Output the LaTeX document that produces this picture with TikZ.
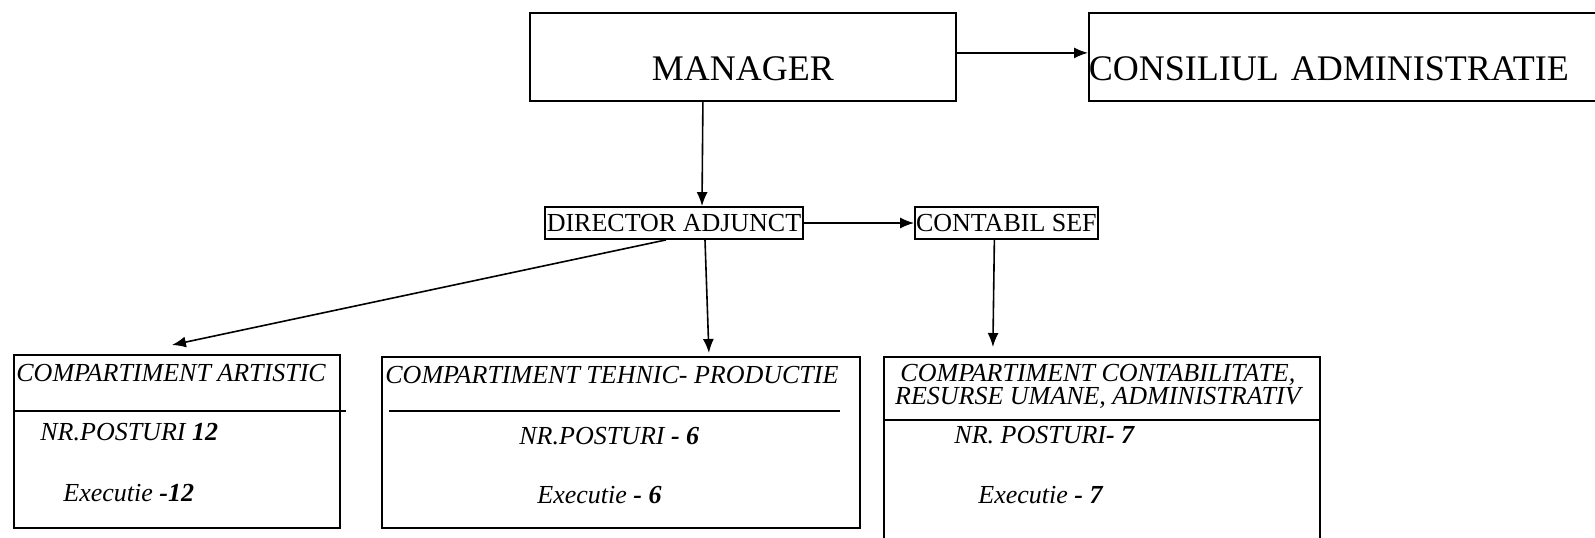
\documentclass[tikz,border=0pt]{standalone}
\usepackage{fontspec}
\setmainfont{Liberation Serif}
\usetikzlibrary{positioning, arrows.meta}

\tikzset{
  box/.style={draw, line width=0.9pt, inner sep=0pt},
  arr/.style={-{Latex[length=7pt, width=5.5pt]}, line width=0.8pt},
  big/.style={font=\fontsize{18}{20}\selectfont},
  small/.style={font=\fontsize{13}{15}\selectfont},
  lbl/.style={font=\fontsize{13}{11.5}\selectfont\itshape, inner sep=0pt, anchor=west}
}

\begin{document}
\begin{tikzpicture}[x=0.5pt, y=-0.5pt]
      \useasboundingbox (0,0) rectangle (1595,537);
      % Top
      % -- manager
      \node [box, big, anchor=north west, minimum width=213pt, text
      height=32pt, text depth=8pt, inner ysep=2pt] (MGR) at (529,12)
      {MANAGER};%
      % -- board
      \node [box, big, anchor=north west, text width=265pt, align=left,
      text height=32pt, text depth=8pt, inner ysep=2pt] (CA) at
      (1088,12) {CONSILIUL ADMINISTRATIE};%

      % Middle
      \node [box, small, minimum height=16pt, inner xsep=1pt] (DA) at
      (674,223) {DIRECTOR ADJUNCT};%
      \node [box, small, minimum height=16pt, inner xsep=0.5pt, right=55pt
      of DA] (CS) {CONTABIL SEF};%

      % Departments
      % -- artistic
      \node [box, anchor=north west, minimum width=163pt, minimum
      height=86.5pt] (ART) at (13,354) {};%
      \draw [line width=0.9pt] ([yshift=-28.5pt]ART.north west) --
      ([yshift=-28.5pt, xshift=2.5pt]ART.north east);%
      \node [lbl] (ARTt) at ([shift={(3,19)}]ART.north west)
      {COMPARTIMENT ARTISTIC};%
      \node [lbl] (ARTn) at ([shift={(27,78)}]ART.north west)
      {NR.POSTURI \textbf{12}};%
      \node [lbl] (ARTe) at ([shift={(50,139)}]ART.north west)
      {Executie \textbf{-12}};%
      % -- tehnic
      \node [box, anchor=north west, minimum width=239pt, minimum
      height=85.5pt] (TEH) at (381,356) {};%
      \draw [line width=0.9pt] ([yshift=-27.5pt, xshift=4pt]TEH.north west)
      -- ([yshift=-27.5pt, xshift=-10.5pt]TEH.north east);%
      \node [lbl] (TEHt) at ([shift={(4,19)}]TEH.north west)
      {COMPARTIMENT TEHNIC- PRODUCTIE};%
      \node [lbl] (TEHn) at ([shift={(138,80)}]TEH.north west)
      {NR.POSTURI \textbf{- 6}};%
      \node [lbl] (TEHe) at ([shift={(156,139)}]TEH.north west)
      {Executie \textbf{- 6}};%
      % -- contabilitate
      \node [box, anchor=north west, minimum width=218pt, minimum
      height=102pt] (CON) at (883,356) {};%
      \draw [line width=0.9pt] ([yshift=-32pt]CON.north west) --
      ([yshift=-32pt]CON.north east);%
      \node [lbl, anchor=center, align=center] (CONt) at
      ([shift={(-4,30.5)}]CON.north) {COMPARTIMENT CONTABILITATE,\\
        RESURSE UMANE, ADMINISTRATIV};%
      \node [lbl] (CONn) at ([shift={(71,79)}]CON.north west)
      {NR. POSTURI\textbf{- 7}};%
      \node [lbl] (CONe) at ([shift={(95,139)}]CON.north west)
      {Executie \textbf{- 7}};%

      % arrows
      \draw [arr] ([yshift=2pt]MGR.east) -- ([yshift=2pt]CA.west);%
      \draw [arr] ([xshift=-20pt]MGR.south) -- ([xshift=14pt]DA.north);%
      \draw [arr] (DA) -- (CS);%
      \draw [arr] ([xshift=-4pt]DA.south) -- ([shift={(-5,-9)}]ART.north);%
      \draw [arr] ([xshift=15.5pt]DA.south) -- ([shift={(88,-3)}]TEH.north);%
      \draw [arr] ([xshift=-6pt]CS.south) -- ([shift={(-109,-9)}]CON.north);%
\end{tikzpicture}
\end{document}
